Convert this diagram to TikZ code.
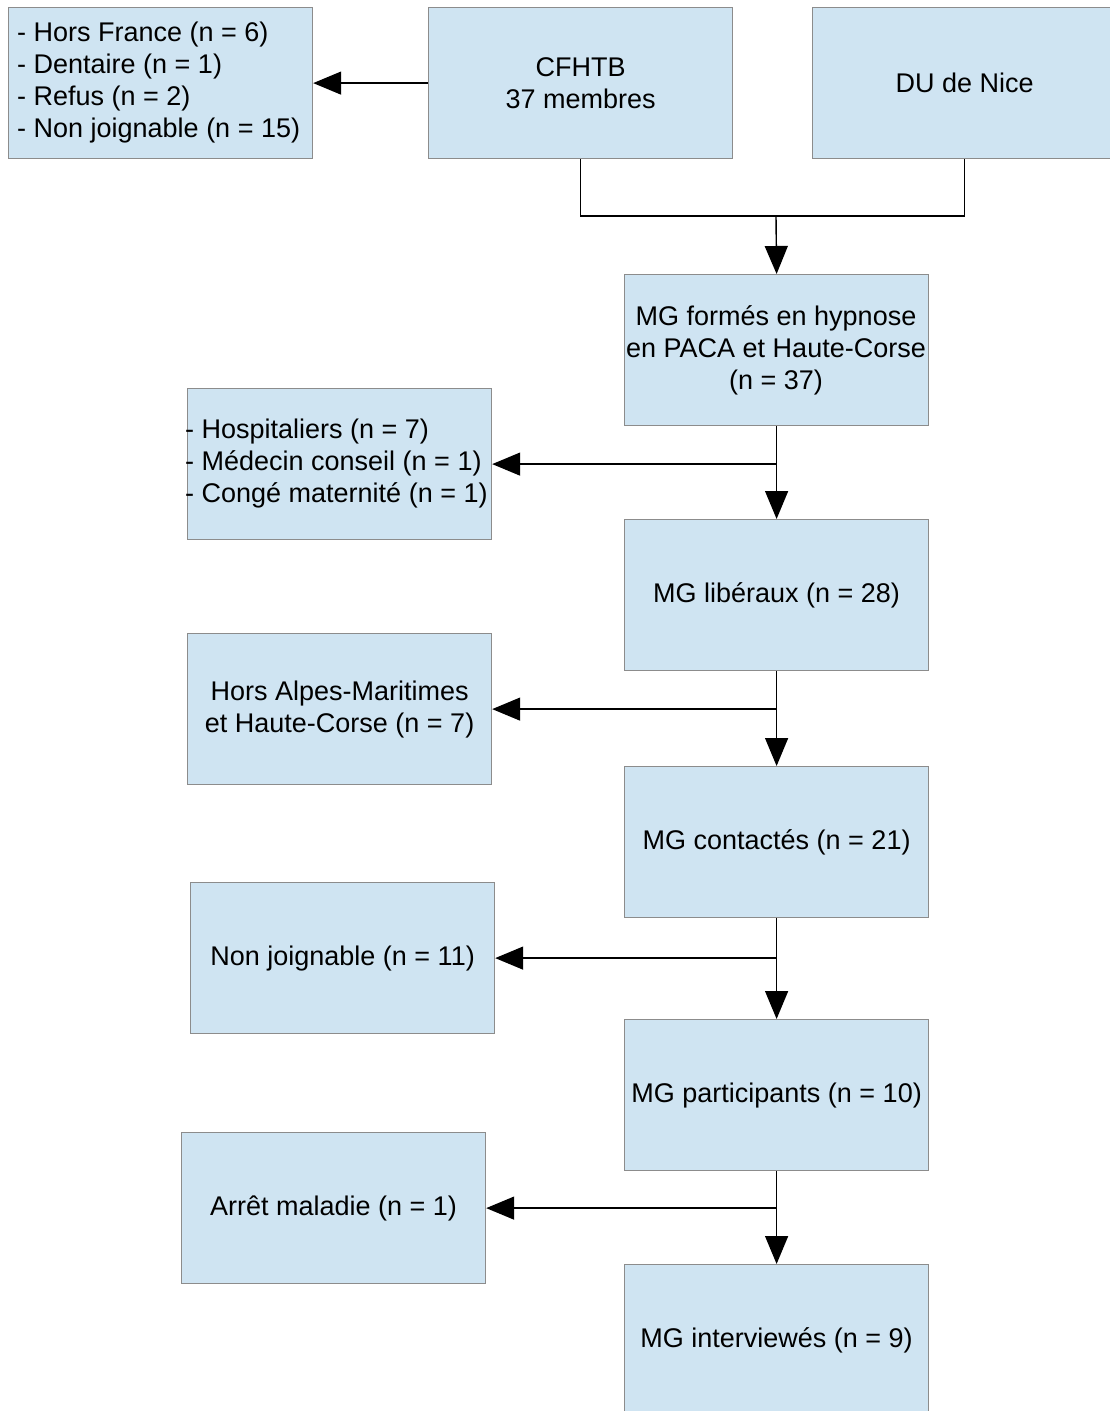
\documentclass[tikz,border=0pt]{standalone}
\usepackage{fontspec}
\setmainfont{Liberation Sans}
\usetikzlibrary{arrows.meta}
\definecolor{boxfill}{RGB}{207,228,242}
\definecolor{boxline}{RGB}{140,140,140}
\begin{document}
\begin{tikzpicture}[x=1pt,y=-1pt,
  box/.style={draw=boxline,fill=boxfill,line width=1.2pt,inner sep=0pt,
    minimum width=#1,minimum height=151pt,anchor=north west},
  box/.default=304pt,
  txt/.style={font=\fontsize{27}{32}\selectfont,inner sep=0pt,align=center,text=black},
  conn/.style={line width=1.4pt,draw=black,line join=miter},
  arr/.style={conn,-{Triangle[length=28pt,width=23pt]}}]
\useasboundingbox (0,0) rectangle (1109,1411);
% boxes
\node[box] (excl1) at (8,7) {};
\node[box] (cfhtb) at (428,7) {};
\node[box] (du) at (812,7) {};
\node[box] (mgf) at (624,274) {};
\node[box] (excl2) at (187,388) {};
\node[box] (mgl) at (624,519) {};
\node[box] (excl3) at (187,633) {};
\node[box] (mgc) at (624,766) {};
\node[box] (excl4) at (190,882) {};
\node[box] (mgp) at (624,1019) {};
\node[box] (excl5) at (181,1132) {};
\node[box] (mgi) at (624,1264) {};
% texts
\node[txt,align=left,anchor=west] (t1) at (17,83) {- Hors France (n = 6)\\- Dentaire (n = 1)\\- Refus (n = 2)\\- Non joignable (n = 15)};
\node[txt] (t2) at (cfhtb.center) {CFHTB\\37 membres};
\node[txt] (t3) at (du.center) {DU de Nice};
\node[txt] (t4) at (776,350) {MG formés en hypnose\\en PACA et Haute-Corse\\(n = 37)};
\node[txt,align=left,anchor=west] (t5) at (185,464) {- Hospitaliers (n = 7)\\- Médecin conseil (n = 1)\\- Congé maternité (n = 1)};
\node[txt] (t6) at (mgl.center) {MG libéraux (n = 28)};
\node[txt] (t7) at (excl3.center) {Hors Alpes-Maritimes\\et Haute-Corse (n = 7)};
\node[txt] (t8) at (mgc.center) {MG contactés (n = 21)};
\node[txt] (t9) at (excl4.center) {Non joignable (n = 11)};
\node[txt] (t10) at (mgp.center) {MG participants (n = 10)};
\node[txt] (t11) at (excl5.center) {Arrêt maladie (n = 1)};
\node[txt] (t12) at (mgi.center) {MG interviewés (n = 9)};
% connectors
\coordinate (j0) at (776,216);
\draw[conn] (cfhtb.south) |- (du.south |- j0) -- (du.south);
\draw[arr] (j0) -- (mgf.north);
\draw[arr] (mgf.south) -- (mgl.north);
\draw[arr] (mgl.south) -- (mgc.north);
\draw[arr] (mgc.south) -- (mgp.north);
\draw[arr] (mgp.south) -- (mgi.north);
\draw[arr] (cfhtb.west) -- (excl1.east);
\draw[arr] (mgf.south |- excl2.east) -- (excl2.east);
\draw[arr] (mgl.south |- excl3.east) -- (excl3.east);
\draw[arr] (mgc.south |- excl4.east) -- (excl4.east);
\draw[arr] (mgp.south |- excl5.east) -- (excl5.east);
\end{tikzpicture}
\end{document}
